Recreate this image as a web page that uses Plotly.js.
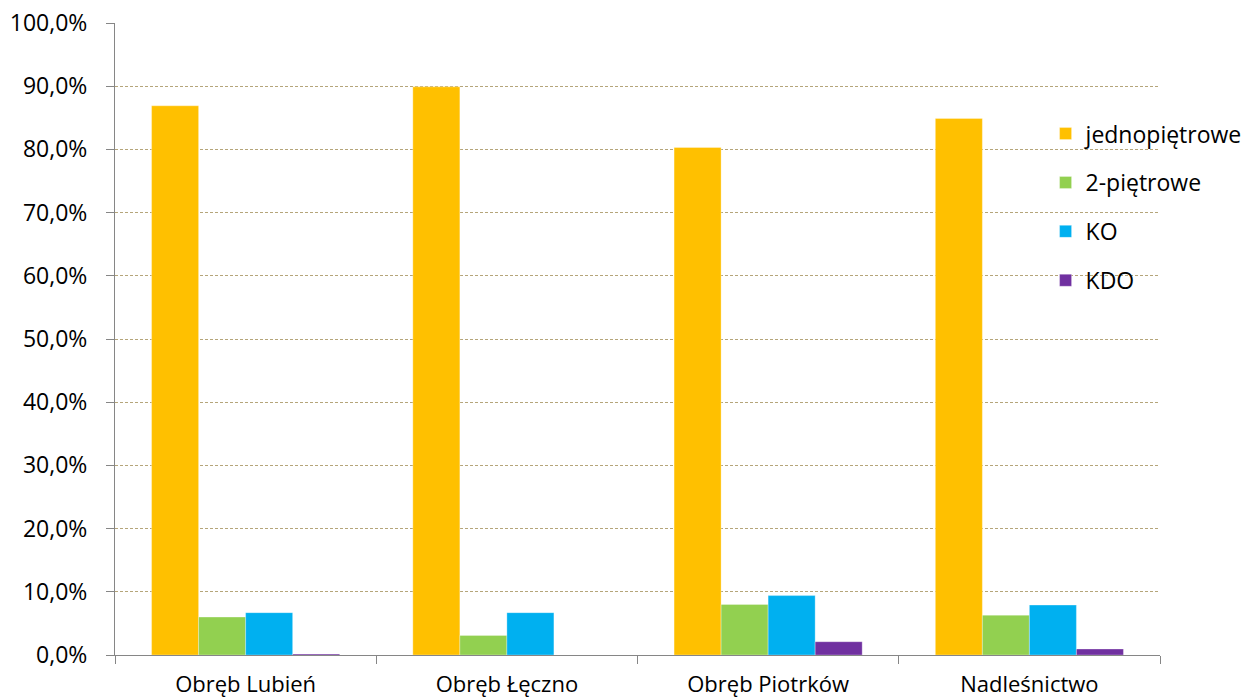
<!DOCTYPE html>
<html><head><meta charset="utf-8">
<script src="https://cdn.plot.ly/plotly-3.0.1.min.js"></script>
<style>html,body{margin:0;padding:0;background:#fff}#chart{width:1245px;height:700px}</style>
</head><body><div id="chart"></div>
<script>
const categories = ['Obręb Lubień', 'Obręb Łęczno', 'Obręb Piotrków', 'Nadleśnictwo'];
const seriesNames = ['jednopiętrowe', '2-piętrowe', 'KO', 'KDO'];
const jednopietrowe = [0.869, 0.899, 0.803, 0.849];
const dwupietrowe = [0.060, 0.031, 0.080, 0.063];
const ko = [0.067, 0.067, 0.094, 0.079];
const kdo = [0.0015, 0.0, 0.021, 0.0095];
const colors = ['#FFC000', '#92D050', '#00B0F0', '#7030A0'];
const yTicks = [0, 0.1, 0.2, 0.3, 0.4, 0.5, 0.6, 0.7, 0.8, 0.9, 1.0];

const values = [jednopietrowe, dwupietrowe, ko, kdo];
const FONT = '"Open Sans", "Noto Sans", sans-serif';
const traces = values.map((v, i) => ({
  type: 'bar', x: categories, y: v, name: seriesNames[i],
  legendgroup: 'g' + i,
  marker: {color: colors[i], line: {color: 'rgba(255,255,255,0.6)', width: 0.5}},
  hoverinfo: 'x+y+name'
}));

const layout = {
  width: 1245, height: 700,
  margin: {l: 115, r: 85, t: 23, b: 45, autoexpand: false},
  paper_bgcolor: '#fff', plot_bgcolor: '#fff',
  separators: ', ',
  barmode: 'group', bargap: 0.28, bargroupgap: 0,
  font: {family: FONT, size: 23, color: '#000'},
  showlegend: true,
  legend: {x: 0.8905, xanchor: 'left', y: 0.859, yanchor: 'top',
    bgcolor: 'rgba(0,0,0,0)', borderwidth: 0,
    font: {family: FONT, size: 23, color: '#000'},
    traceorder: 'grouped', tracegroupgap: 16, itemclick: false},
  xaxis: {type: 'category', showgrid: false, showline: true, linecolor: '#868686', linewidth: 1,
    ticks: 'outside', tickson: 'boundaries', ticklen: 8, tickcolor: '#868686',
    ticklabelstandoff: 10, zeroline: false,
    tickfont: {family: FONT, size: 22}},
  yaxis: {range: [0, 1], tickvals: yTicks, tickformat: '.1%', showline: true,
    linecolor: '#868686', linewidth: 1, ticks: 'outside', ticklen: 8, tickcolor: '#868686',
    showgrid: true, gridcolor: '#B5A57A', griddash: '3px,2px', gridwidth: 1,
    zeroline: false, ticklabelstandoff: 14,
    tickfont: {family: FONT, size: 23}}
};
Plotly.newPlot('chart', traces, layout, {displayModeBar: false, staticPlot: true});
</script></body></html>
